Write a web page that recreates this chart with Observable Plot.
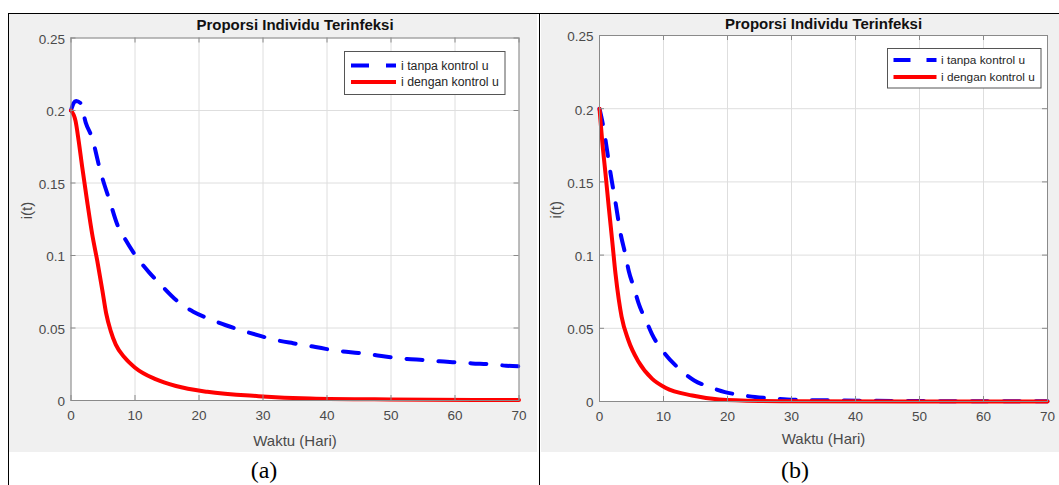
<!DOCTYPE html>
<html>
<head>
<meta charset="utf-8">
<script src="https://cdn.jsdelivr.net/npm/d3@7"></script>
<script src="https://cdn.jsdelivr.net/npm/@observablehq/plot@0.6"></script>
<style>
  html, body { margin: 0; padding: 0; background: #ffffff; width: 1059px; height: 485px; overflow: hidden; }
  body { position: relative; font-family: "Liberation Sans", Arial, Helvetica, sans-serif; }
  .panel { position: absolute; top: 14px; height: 438px; background: #f0f0f0; }
  .line { position: absolute; background: #000; }
  .cap { position: absolute; top: 457px; font-family: "Liberation Serif", "Times New Roman", serif; font-size: 24px; color: #000; transform: translateX(-50%); }
  .legend { position: absolute; overflow: visible; }
</style>
</head>
<body>
<div class="line" style="left:8px; top:13px; width:1051px; height:1px;"></div>
<div class="line" style="left:8px; top:13px; width:1px; height:472px;"></div>
<div class="line" style="left:539px; top:13px; width:1px; height:472px;"></div>
<div class="panel" id="pa" style="left:9px; width:528px;"></div>
<div class="panel" id="pb" style="left:541px; width:518px;"></div>
<div class="cap" style="left:264px;">(a)</div>
<div class="cap" style="left:795px;">(b)</div>

<svg class="legend" style="left:344px; top:51px;" width="162" height="45">
  <rect x="0.5" y="0.5" width="160.5" height="43" fill="#fff" stroke="#555" stroke-width="1"></rect>
  <line x1="7" x2="52" y1="14.4" y2="14.4" stroke="#0000ff" stroke-width="4" stroke-dasharray="18,17"></line>
  <line x1="7" x2="52" y1="31" y2="31" stroke="#ff0000" stroke-width="4"></line>
  <text x="57" y="18.8" font-size="12.3" fill="#262626" font-family="Liberation Sans, Arial, sans-serif">i tanpa kontrol u</text>
  <text x="57" y="35.4" font-size="12.3" fill="#262626" font-family="Liberation Sans, Arial, sans-serif">i dengan kontrol u</text>
</svg>
<svg class="legend" style="left:887px; top:48px;" width="156" height="42">
  <rect x="0.5" y="0.5" width="153.5" height="39.5" fill="#fff" stroke="#555" stroke-width="1"></rect>
  <line x1="6.5" x2="49.5" y1="12" y2="12" stroke="#0000ff" stroke-width="4" stroke-dasharray="17,16"></line>
  <line x1="6.5" x2="49.5" y1="29" y2="29" stroke="#ff0000" stroke-width="4"></line>
  <text x="54" y="16.2" font-size="11.8" fill="#262626" font-family="Liberation Sans, Arial, sans-serif">i tanpa kontrol u</text>
  <text x="54" y="33.2" font-size="11.8" fill="#262626" font-family="Liberation Sans, Arial, sans-serif">i dengan kontrol u</text>
</svg>

<script>
// ---- data ----
const chartTitle = "Proporsi Individu Terinfeksi";
const xLabel = "Waktu (Hari)";
const yLabel = "i(t)";
const seriesNames = ["i tanpa kontrol u", "i dengan kontrol u"];
const xTicks = [0, 10, 20, 30, 40, 50, 60, 70];
const yTicks = [0, 0.05, 0.1, 0.15, 0.2, 0.25];
const yTickLabels = ["0", "0.05", "0.1", "0.15", "0.2", "0.25"];

// panel (a) - without control (blue dashed)
const tA_blue = [0, 0.4, 0.8, 1.5, 2.3, 3.3, 4.6, 6.2, 7.2, 8.5, 10.1, 12.2, 14, 16.5, 19.1, 21.5, 24.2, 26.6, 29.3, 31.8, 34.7, 36.9, 39.8, 42.2, 44.9, 47.4, 50, 52.5, 55.2, 57.6, 60.3, 62.7, 65.4, 68, 70];
const iA_blue = [0.200, 0.205, 0.2066, 0.205, 0.1917, 0.181, 0.158, 0.1355, 0.1217, 0.111, 0.0999, 0.0884, 0.080, 0.069, 0.0612, 0.0565, 0.0519, 0.0484, 0.0449, 0.0419, 0.0395, 0.0379, 0.0356, 0.034, 0.0328, 0.0314, 0.0298, 0.0286, 0.0279, 0.027, 0.0263, 0.0256, 0.0251, 0.024, 0.0236];
// panel (a) - with control (red solid)
const tA_red = [0, 0.7, 1.2, 1.75, 2.5, 3.3, 4.1, 4.9, 5.5, 6.2, 7.0, 8.35, 9.97, 13.2, 16.4, 21.3, 29.3, 37.4, 50, 70];
const iA_red = [0.200, 0.193, 0.179, 0.161, 0.138, 0.115, 0.0964, 0.076, 0.060, 0.048, 0.0385, 0.0298, 0.0228, 0.0147, 0.0100, 0.006, 0.003, 0.0014, 0.0007, 0.0003];

// panel (b) - without control (blue dashed)
const tB_blue = [0, 0.67, 1.2, 1.72, 2.5, 3.28, 4.06, 4.58, 5.36, 6.1, 7.4, 8.2, 10.0, 12.4, 14.8, 17.2, 19.6, 22.2, 24.3, 27.2, 29.3, 32, 38, 43, 50, 70];
const iB_blue = [0.200, 0.186, 0.171, 0.156, 0.136, 0.115, 0.100, 0.089, 0.078, 0.0672, 0.054, 0.046, 0.0339, 0.0225, 0.0144, 0.0099, 0.0064, 0.0044, 0.0030, 0.0021, 0.0014, 0.001, 0.0007, 0.0005, 0.0003, 0.0001];
// panel (b) - with control (red solid)
const tB_red = [0, 0.42, 0.94, 1.45, 1.98, 2.5, 3.0, 3.45, 4.5, 6.1, 8.2, 10.3, 14.5, 18.7, 25, 30, 70];
const iB_red = [0.200, 0.178, 0.1555, 0.1327, 0.110, 0.0872, 0.070, 0.058, 0.042, 0.0271, 0.0156, 0.0094, 0.0041, 0.0014, 0.0004, 0.0002, 0.0];

function toRows(t, v) { return t.map((d, i) => ({t: d, v: v[i]})); }

function makePanel(cfg) {
  const fw = cfg.width - cfg.ml - cfg.mr;
  const fh = cfg.height - cfg.mt - cfg.mb;
  const frameColor = "#8a8a8a";
  const textColor = "#4a4a4a";
  return Plot.plot({
    width: cfg.width,
    height: cfg.height,
    marginLeft: cfg.ml,
    marginRight: cfg.mr,
    marginTop: cfg.mt,
    marginBottom: cfg.mb,
    x: {domain: [0, 70]},
    y: {domain: [0, 0.25]},
    style: {background: "#f0f0f0", fontFamily: "Liberation Sans, Arial, Helvetica, sans-serif", fontSize: "13px", overflow: "visible"},
    marks: [
      Plot.frame({fill: "#ffffff", stroke: null}),
      Plot.gridX(xTicks, {stroke: "#dedede", strokeOpacity: 1}),
      Plot.gridY(yTicks, {stroke: "#dedede", strokeOpacity: 1}),
      Plot.line(toRows(cfg.tBlue, cfg.iBlue), {x: "t", y: "v", stroke: "#0000ff", strokeWidth: 4, strokeDasharray: "16,16", curve: "monotone-x"}),
      Plot.line(toRows(cfg.tRed, cfg.iRed), {x: "t", y: "v", stroke: "#ff0000", strokeWidth: 4, curve: "monotone-x"}),
      Plot.tickX(xTicks, {x: d => d, insetTop: fh - 5, stroke: frameColor}),
      Plot.tickX(xTicks, {x: d => d, insetBottom: fh - 5, stroke: frameColor}),
      Plot.tickY(yTicks, {y: d => d, insetRight: fw - 5, stroke: frameColor}),
      Plot.tickY(yTicks, {y: d => d, insetLeft: fw - 5, stroke: frameColor}),
      Plot.frame({stroke: frameColor}),
      Plot.axisX(xTicks, {tickSize: 0, tickPadding: 10, label: null, fontSize: 13.5, fill: textColor, tickFormat: d => String(d)}),
      Plot.axisY(yTicks, {tickSize: 0, tickPadding: 6, label: null, fontSize: 13.5, fill: textColor, dy: 1.5, tickFormat: d => yTickLabels[yTicks.indexOf(d)]}),
      Plot.text([chartTitle], {text: d => d, frameAnchor: "top", lineAnchor: "middle", dy: cfg.titleDy, fontWeight: "bold", fontSize: 15, fill: "#111111"}),
      Plot.text([xLabel], {text: d => d, frameAnchor: "bottom", lineAnchor: "middle", dy: cfg.xLabelDy, fontSize: 15, fill: textColor}),
      Plot.text([yLabel], {text: d => d, frameAnchor: "left", lineAnchor: "middle", dx: cfg.yLabelDx, rotate: -90, fontSize: 15, fill: textColor})
    ]
  });
}

document.getElementById("pa").appendChild(makePanel({
  width: 528, height: 438, ml: 61.5, mr: 18.5, mt: 23.5, mb: 52,
  tBlue: tA_blue, iBlue: iA_blue, tRed: tA_red, iRed: iA_red,
  titleDy: -13, xLabelDy: 41, yLabelDx: -44
}));
document.getElementById("pb").appendChild(makePanel({
  width: 518, height: 438, ml: 58, mr: 12, mt: 21, mb: 51,
  tBlue: tB_blue, iBlue: iB_blue, tRed: tB_red, iRed: iB_red,
  titleDy: -11, xLabelDy: 37.5, yLabelDx: -43
}));
</script>
</body>
</html>
